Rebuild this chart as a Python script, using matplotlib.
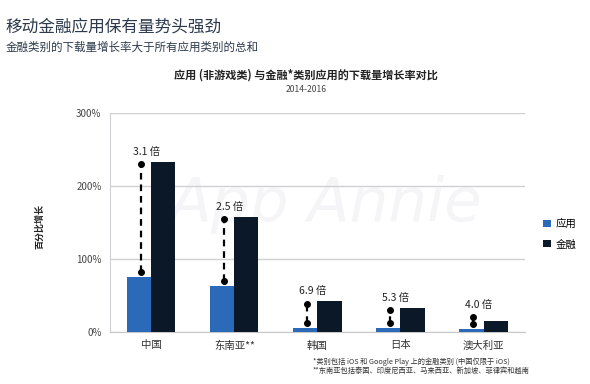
import numpy as np
import matplotlib
matplotlib.use('Agg')
import matplotlib.pyplot as plt

plt.rcParams['font.family'] = ['Noto Sans CJK SC', 'DejaVu Sans']

# data
regions = ['中国', '东南亚**', '韩国', '日本', '澳大利亚']
app_growth = [75, 63, 6, 6.2, 3.8]
fin_growth = [233, 158, 42, 33, 15]
ratio_labels = ['3.1 倍', '2.5 倍', '6.9 倍', '5.3 倍', '4.0 倍']
yticks = [0, 100, 200, 300]
ytick_labels = ['0%', '100%', '200%', '300%']

c_app = '#2a6ab8'
c_fin = '#0b1828'
c_title = '#2c3a4c'

fig = plt.figure(figsize=(5.9, 3.84), dpi=100)
ax = fig.add_axes([0.186, 0.135, 0.704, 0.571])

x = np.arange(len(regions))
w = 0.29
ax.bar(x - w/2, app_growth, w, color=c_app, label='应用', zorder=3)
ax.bar(x + w/2, fin_growth, w, color=c_fin, label='金融', zorder=3)

# dashed connector from app bar up to the finance level
for i in range(len(regions)):
    lo = app_growth[i] + 7
    hi = max(fin_growth[i] - 3, lo + 10)
    xi = x[i] - w/2 + 0.02
    ax.plot([xi, xi], [lo, hi], color='black', lw=1.6, ls=(0, (3, 2.2)), zorder=4)
    ax.plot([xi], [lo], 'o', color='black', ms=4, zorder=5)
    ax.plot([xi], [hi], 'o', color='black', ms=4, zorder=5)
    ax.text(x[i] - 0.06, hi + 10, ratio_labels[i], ha='center', va='bottom',
            fontsize=7.5, color='#222222', zorder=5)

ax.set_xlim(-0.5, 4.5)
ax.set_ylim(0, 300)
ax.set_yticks(yticks)
ax.set_yticklabels(ytick_labels, fontsize=7, color='#444444')
ax.set_xticks(x)
ax.set_xticklabels(regions, fontsize=7.5, color='#333333')
ax.tick_params(length=0, pad=6)
ax.grid(axis='y', color='#d0d0d4', lw=1, zorder=0)
for s in ['top', 'right']:
    ax.spines[s].set_visible(False)
ax.spines['left'].set_color('#d0d0d4')
ax.spines['bottom'].set_color('#c8c8cc')
ax.set_ylabel('百分比增长', fontsize=6.5, fontweight='bold', color='#222222')
ax.yaxis.set_label_coords(-0.157, 0.48)

# faint watermark
ax.text(0.52, 0.58, 'App Annie', transform=ax.transAxes, fontsize=44, style='italic',
        color='#f5f5f8', ha='center', va='center', zorder=1, family='DejaVu Sans')

leg = fig.legend(loc='upper left', bbox_to_anchor=(0.905, 0.455), frameon=False,
                 fontsize=7.5, handlelength=0.7, handleheight=0.7,
                 handletextpad=0.5, labelspacing=1.0)

fig.text(0.009, 0.93, '移动金融应用保有量势头强劲', fontsize=12, color=c_title,
         ha='left', va='center')
fig.text(0.009, 0.878, '金融类别的下载量增长率大于所有应用类别的总和', fontsize=8.3,
         color=c_title, ha='left', va='center')
fig.text(0.519, 0.805, '应用 (非游戏类) 与金融*类别应用的下载量增长率对比', fontsize=8,
         fontweight='bold', color='#222222', ha='center', va='center')
fig.text(0.519, 0.768, '2014-2016', fontsize=6.2, color='#444444', ha='center', va='center')

fig.text(0.53, 0.046, '*类别包括 iOS 和 Google Play 上的金融类别 (中国仅限于 iOS)\n'
         '**东南亚包括泰国、印度尼西亚、马来西亚、新加坡、菲律宾和越南',
         fontsize=5.2, color='#333333', ha='left', va='center', linespacing=1.2)

fig.savefig('out.png', dpi=100)
